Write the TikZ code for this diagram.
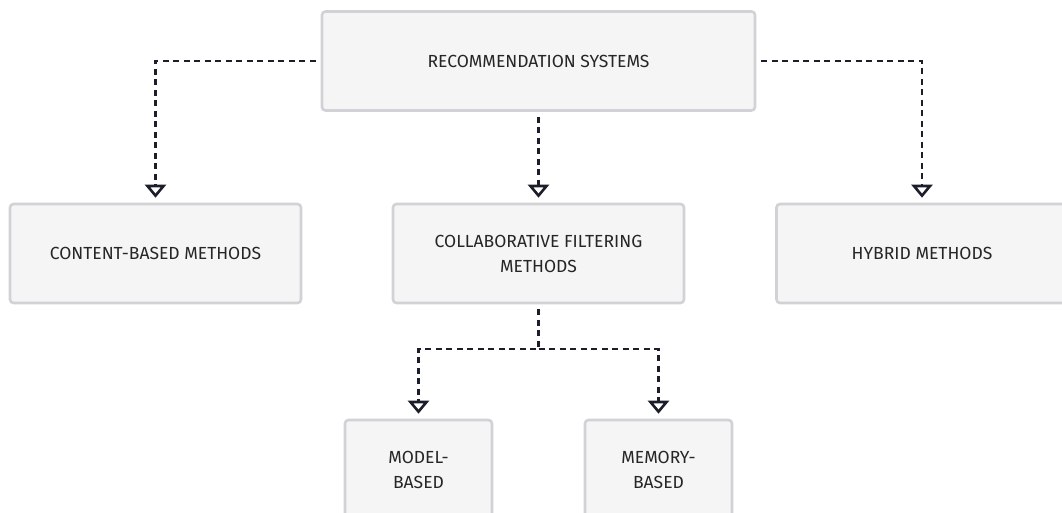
\documentclass[tikz,border=0pt]{standalone}
\usepackage{fontspec}
\setmainfont{Fira Sans}
\usetikzlibrary{arrows.meta,calc}

\definecolor{boxfill}{HTML}{F5F5F5}
\definecolor{boxline}{HTML}{D2D2D6}
\definecolor{linkcol}{HTML}{1C1E2A}
\definecolor{labelcol}{HTML}{262626}

\tikzset{
  catbox/.style={draw=boxline, fill=boxfill, line width=2.6pt, rounded corners=3.5pt,
    text=labelcol, align=center, inner sep=0pt,
    font=\fontsize{17.5}{25}\selectfont},
  link/.style={draw=linkcol, line width=2.3pt, dash pattern=on 6pt off 4.5pt,
    -{Triangle[open, width=21pt, length=13pt, line width=2.6pt, sep=0pt]},
    shorten <=5pt, shorten >=5pt},
}

\begin{document}
\begin{tikzpicture}[x=1pt, y=-1pt]
  \useasboundingbox (0,0) rectangle (1062,513);
  \clip (0,0) rectangle (1062,513);

  % categories
  \node[catbox, minimum width=433pt, minimum height=99pt] (root) at (538.5,61) {RECOMMENDATION SYSTEMS};
  \node[catbox, minimum width=291pt, minimum height=99pt] (content) at (155.5,253.5) {CONTENT-BASED METHODS};
  \node[catbox, minimum width=291pt, minimum height=99pt] (collab) at (538.5,253.5) {COLLABORATIVE FILTERING\\METHODS};
  \node[catbox, minimum width=291pt, minimum height=99pt] (hybrid) at (922,253.5) {HYBRID METHODS};
  \node[catbox, minimum width=147pt, minimum height=100pt] (model) at (418.5,470) {MODEL-\\BASED};
  \node[catbox, minimum width=147pt, minimum height=100pt] (memory) at (658.5,470) {MEMORY-\\BASED};

  % branch point under collaborative filtering
  \coordinate (split) at (538.5,349);

  % connectors
  \draw[link] (root.west) -| (content.north);
  \draw[link] (root.south) -- (collab.north);
  \draw[link] (root.east) -| (hybrid.north);
  \draw[link] (collab.south) -- (split) -| (model.north);
  \draw[link, shorten <=0pt] (split) -| (memory.north);
\end{tikzpicture}
\end{document}
